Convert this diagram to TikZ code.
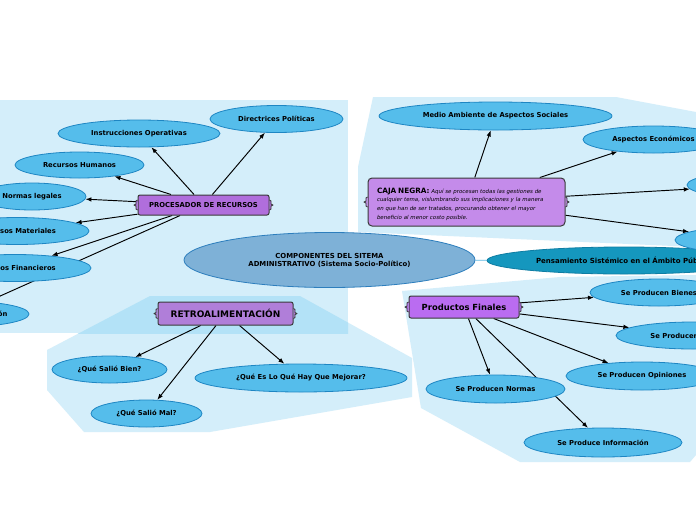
\documentclass[tikz,border=0pt]{standalone}
\usepackage{fontspec}
\setmainfont{DejaVu Sans}
\usetikzlibrary{shapes.geometric,arrows.meta}
\definecolor{panel}{HTML}{D4EEFA}
\definecolor{panelb}{HTML}{B3E2F7}
\definecolor{ellf}{HTML}{55BDEB}
\definecolor{elld}{HTML}{1E86C3}
\definecolor{cenf}{HTML}{7EB1D7}
\definecolor{cend}{HTML}{2D7EBD}
\definecolor{psf}{HTML}{1597BE}
\definecolor{psd}{HTML}{0E7DA3}
\definecolor{pA}{HTML}{B06EDC}
\definecolor{pB}{HTML}{B07ED9}
\definecolor{pC}{HTML}{C48BEA}
\definecolor{pD}{HTML}{BA6CF1}
\definecolor{boxd}{HTML}{3A3A3A}
\definecolor{linkc}{HTML}{5DB8E2}
\pgfdeclarelayer{panels}
\pgfdeclarelayer{edges}
\pgfsetlayers{panels,edges,main}
\tikzset{
 leaf/.style={ellipse, fill=ellf, draw=elld, line width=0.8pt, inner sep=0pt,
   font=\bfseries\fontsize{6.8}{8}\selectfont, text=black},
 hub/.style={rectangle, rounded corners=2pt, draw=boxd, line width=1pt, inner sep=0pt,
   font=\bfseries\fontsize{6.8}{8}\selectfont, text=black},
 arr/.style={-{Latex[length=6pt,width=4.5pt]}, line width=0.95pt, black},
 linkline/.style={line width=0.9pt, draw=linkc},
}
\newcommand\bracenotch[2]{%
 \filldraw[fill=#2, draw=boxd, line width=0.9pt, line join=round]
   (#1.west) ++(0,-5) -- ++(-1.5,1) -- ++(0,3) -- ++(-2,1) -- ++(2,1) -- ++(0,3) -- ++(1.5,1);
 \filldraw[fill=#2, draw=boxd, line width=0.9pt, line join=round]
   (#1.east) ++(0,-5) -- ++(1.5,1) -- ++(0,3) -- ++(2,1) -- ++(-2,1) -- ++(0,3) -- ++(-1.5,1);
}
\begin{document}
\begin{tikzpicture}[x=1pt,y=-1pt]
\useasboundingbox (0,0) rectangle (696,520);

% ---------- panels
\begin{pgfonlayer}{panels}
\fill[white] (0,0) rectangle (696,520);
\fill[panel] (0,100) rectangle (348,333);
\fill[panel] (47,350) -- (150,296) -- (300,296) -- (412,358) -- (412,397) -- (210,432) -- (84,432) -- (47,390) -- cycle;
\begin{scope}
 \clip (0,100) rectangle (348,333);
 \fill[panelb] (47,350) -- (150,296) -- (300,296) -- (412,358) -- (412,397) -- (210,432) -- (84,432) -- (47,390) -- cycle;
\end{scope}
\fill[panel] (373,97) -- (616,97) -- (696,112) -- (696,247) -- (358,232) -- (358,167) -- cycle;
\fill[panel] (402,291) -- (560,277) -- (696,275) -- (696,455) -- (690,462) -- (520,462) -- (421,408) -- cycle;
\end{pgfonlayer}

% ---------- central
\node[ellipse, fill=cenf, draw=cend, line width=0.8pt, inner sep=0pt,
      minimum width=291pt, minimum height=55pt, align=center,
      font=\bfseries\fontsize{6.9}{8}\selectfont] (cen) at (329.5,260)
      {COMPONENTES DEL SITEMA\\ADMINISTRATIVO (Sistema Socio-Político)};
\node[ellipse, fill=psf, draw=psd, line width=0.8pt, inner sep=0pt,
      minimum width=274pt, minimum height=27pt,
      font=\bfseries\fontsize{7}{8}\selectfont] (pens) at (624,260.5)
      {Pensamiento Sistémico en el Ámbito Público};

% ---------- procesador
\node[hub, fill=pA, minimum width=131pt, minimum height=20pt] (proc) at (203.5,205) {PROCESADOR DE RECURSOS};
\bracenotch{proc}{pA}
\node[leaf, minimum width=133pt, minimum height=27pt] (dir) at (276.5,119) {Directrices Políticas};
\node[leaf, minimum width=162pt, minimum height=27pt] (ins) at (139,133.5) {Instrucciones Operativas};
\node[leaf, minimum width=129pt, minimum height=26pt] (rh) at (79.5,165) {Recursos Humanos};
\node[leaf, minimum width=108pt, minimum height=27pt] (nl) at (32,196.5) {Normas legales};
\node[leaf, minimum width=144pt, minimum height=27pt] (rm) at (17,231) {Recursos Materiales};
\node[leaf, minimum width=152pt, minimum height=27pt] (rf) at (15,268) {Recursos Financieros};
\node[leaf, minimum width=138pt, minimum height=26pt] (ri) at (-40,314) {Recursos de Información};

% ---------- retroalimentacion
\node[hub, fill=pB, minimum width=135pt, minimum height=23pt,
      font=\bfseries\fontsize{9}{10}\selectfont] (retro) at (225.5,313.5) {RETROALIMENTACIÓN};
\bracenotch{retro}{pB}
\node[leaf, minimum width=115pt, minimum height=27pt] (bien) at (109.5,369.5) {¿Qué Salió Bien?};
\node[leaf, minimum width=111pt, minimum height=27pt] (mal) at (146.5,413.5) {¿Qué Salió Mal?};
\node[leaf, minimum width=212pt, minimum height=28pt] (mej) at (301,378) {¿Qué Es Lo Qué Hay Que Mejorar?};

% ---------- caja negra
\node[hub, fill=pC, rounded corners=4pt, minimum width=197pt, minimum height=48pt,
      text width=179pt, align=left, font=\fontsize{5.45}{8.7}\selectfont] (caja) at (466.5,202)
 {\rule{0pt}{9.5pt}{\bfseries\fontsize{7.3}{8.7}\selectfont CAJA NEGRA:} \itshape Aquí se procesan todas las gestiones de\\
  cualquier tema, vislumbrando sus implicaciones y la manera\\
  en que han de ser tratados, procurando obtener el mayor\\
  beneficio al menor costo posible.};
\bracenotch{caja}{pC}
\node[leaf, minimum width=233pt, minimum height=28pt] (med) at (495.5,116) {Medio Ambiente de Aspectos Sociales};
\node[leaf, minimum width=141pt, minimum height=27pt] (eco) at (653.5,139.5) {Aspectos Económicos};
\node[leaf, minimum width=146pt, minimum height=27pt] (r3) at (760,185) {};
\node[leaf, minimum width=150pt, minimum height=27pt] (r4) at (750,240) {};

% ---------- productos finales
\node[hub, fill=pD, minimum width=110pt, minimum height=22pt,
      font=\bfseries\fontsize{8.4}{9}\selectfont] (prod) at (464,307) {Productos Finales};
\bracenotch{prod}{pD}
\node[leaf, minimum width=138pt, minimum height=27pt] (bie) at (659,292.5) {Se Producen Bienes};
\node[leaf, minimum width=154pt, minimum height=27pt] (ser) at (693,335.5) {Se Producen Servicios};
\node[leaf, minimum width=152pt, minimum height=28pt] (opi) at (642,376) {Se Producen Opiniones};
\node[leaf, minimum width=139pt, minimum height=28pt] (nor) at (495.5,389) {Se Producen Normas};
\node[leaf, minimum width=158pt, minimum height=29pt] (inf) at (603,442.5) {Se Produce Información};

% ---------- connectors
\begin{pgfonlayer}{edges}
\draw[linkline] (cen) -- (pens);
\draw[arr] (proc) -- (dir);
\draw[arr] (proc) -- (ins);
\draw[arr] (proc) -- (rh);
\draw[arr] (proc) -- (nl);
\draw[arr] (proc) -- (rm);
\draw[arr] (proc) -- (rf);
\draw[arr] (proc) -- (ri);
\draw[arr] (retro) -- (bien);
\draw[arr] (retro) -- (mal);
\draw[arr] (retro) -- (mej);
\draw[arr] (caja) -- (med);
\draw[arr] (caja) -- (eco);
\draw[arr] (caja) -- (r3);
\draw[arr] (caja) -- (r4);
\draw[arr] (prod) -- (bie);
\draw[arr] (prod) -- (ser);
\draw[arr] (prod) -- (opi);
\draw[arr] (prod) -- (nor);
\draw[arr] (prod) -- (inf);
\end{pgfonlayer}
\end{tikzpicture}
\end{document}
